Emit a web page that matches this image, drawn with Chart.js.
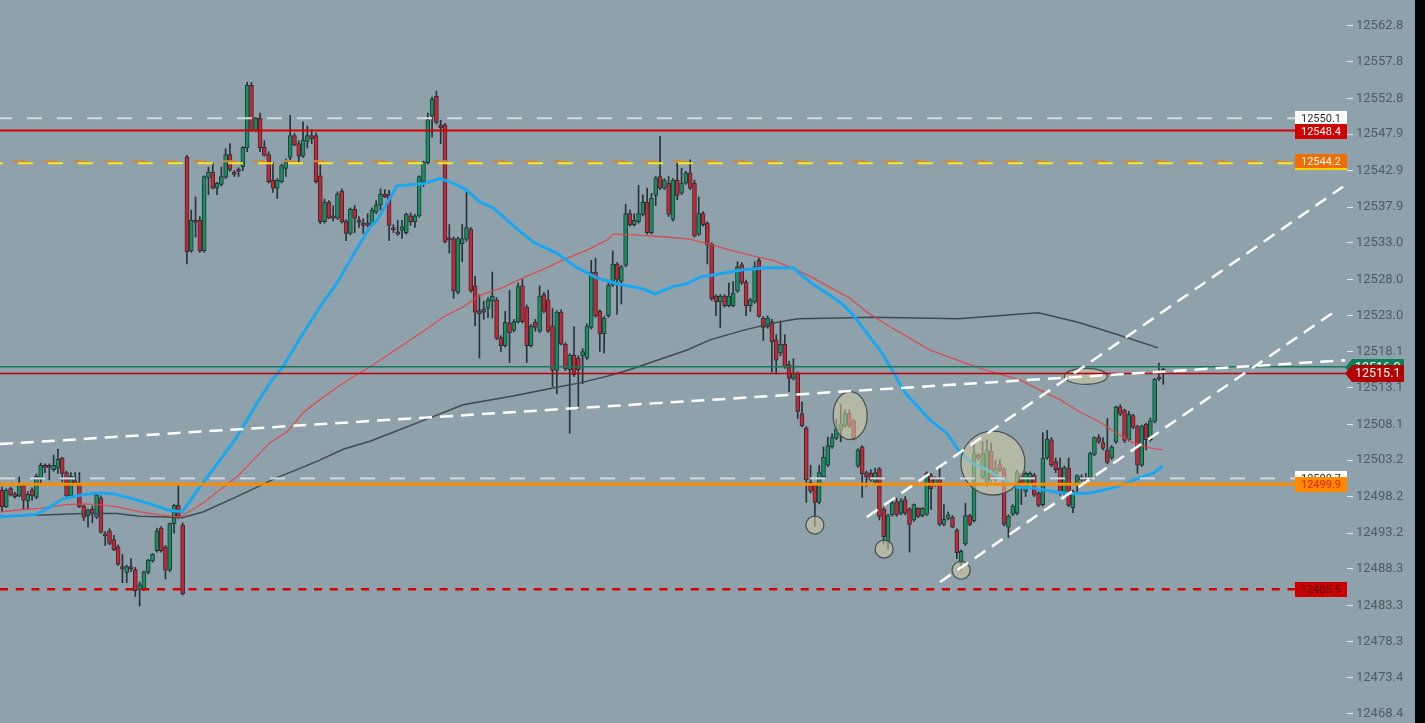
<!DOCTYPE html>
<html>
<head>
<meta charset="utf-8">
<script src="https://cdn.jsdelivr.net/npm/chart.js@4.4.1/dist/chart.umd.min.js"></script>
<style>
  html, body { margin: 0; padding: 0; background: #000; }
  #wrap { position: absolute; left: 0; top: 0; width: 1415px; height: 723px; }
</style>
</head>
<body>
<div id="wrap"><canvas id="chart" width="1415" height="723"></canvas></div>
<script>
// price axis labels
const yTicks = [12562.8, 12557.8, 12552.8, 12547.9, 12542.9, 12537.9, 12533.0, 12528.0, 12523.0, 12518.1,
  12513.1, 12508.1, 12503.2, 12498.2, 12493.2, 12488.3, 12483.3, 12478.3, 12473.4, 12468.4];

// candles: [open, high, low, close], one per bar, left to right
const candles = [
  [12499.1,12499.5,12496.1,12496.8],[12496.8,12499.3,12496.7,12499.1],[12499.3,12499.5,12498.3,12498.4],[12498.6,12498.8,12498.0,12498.2],
  [12498.3,12500.9,12498.2,12500.0],[12499.7,12500.0,12496.4,12497.7],[12497.6,12498.9,12496.4,12498.5],[12499.1,12499.4,12497.7,12498.3],
  [12498.1,12501.3,12497.9,12501.0],[12500.7,12502.8,12500.0,12502.5],[12502.5,12502.7,12501.5,12502.2],[12502.5,12502.7,12500.5,12502.2],
  [12501.9,12503.9,12501.7,12502.5],[12502.1,12504.7,12501.4,12503.3],[12503.5,12503.6,12500.2,12501.4],[12501.5,12501.7,12498.1,12498.3],
  [12498.3,12501.5,12498.1,12501.0],[12500.4,12501.5,12499.8,12499.9],[12500.0,12501.5,12496.7,12496.8],[12496.9,12497.1,12494.9,12495.4],
  [12495.6,12496.5,12494.0,12496.4],[12496.5,12496.9,12494.6,12495.9],[12495.4,12498.7,12495.2,12498.4],[12498.0,12498.3,12493.2,12493.3],
  [12493.1,12493.4,12491.5,12492.8],[12493.5,12493.8,12491.6,12491.8],[12492.3,12492.9,12490.8,12490.9],[12491.3,12491.6,12488.8,12488.9],
  [12488.6,12490.3,12486.4,12488.3],[12487.8,12488.8,12486.4,12488.6],[12488.6,12489.7,12487.9,12488.3],[12488.2,12488.5,12484.5,12485.3],
  [12485.5,12486.5,12483.2,12486.1],[12485.5,12488.0,12485.3,12487.9],[12487.8,12489.6,12487.6,12489.5],[12489.4,12490.4,12489.2,12490.3],
  [12490.8,12493.9,12490.6,12493.5],[12493.9,12494.1,12490.6,12490.8],[12491.3,12491.5,12486.9,12488.1],[12488.1,12494.6,12487.9,12494.5],
  [12494.5,12497.1,12493.2,12497.0],[12497.0,12500.0,12495.2,12495.4],[12494.3,12494.6,12484.7,12484.9],
  [12544.8,12545.0,12530.1,12531.8],[12531.9,12537.5,12531.7,12536.1],[12536.1,12539.3,12533.8,12535.8],[12536.1,12536.6,12531.7,12531.9],
  [12531.9,12542.2,12531.7,12542.1],[12541.9,12543.4,12539.6,12542.7],[12542.7,12544.0,12540.4,12540.5],[12540.5,12541.3,12539.6,12541.2],
  [12541.0,12543.4,12540.8,12542.1],[12542.0,12545.9,12541.8,12545.1],[12545.1,12546.6,12542.8,12543.0],[12542.7,12542.9,12542.1,12542.4],
  [12543.1,12543.3,12542.1,12542.8],[12543.4,12546.2,12542.9,12546.1],[12546.0,12555.0,12545.5,12554.6],[12554.6,12555.0,12548.3,12548.4],
  [12548.4,12550.2,12548.2,12550.1],[12550.1,12550.8,12545.5,12546.0],[12546.1,12547.0,12544.9,12545.0],[12545.1,12545.5,12541.2,12541.4],
  [12541.6,12544.0,12539.9,12540.5],[12540.5,12541.8,12539.1,12541.6],[12541.4,12543.8,12541.2,12543.6],[12543.2,12544.5,12542.1,12544.1],
  [12544.7,12550.5,12544.4,12547.7],[12547.7,12548.0,12546.3,12546.4],[12546.6,12547.0,12544.1,12544.9],[12544.9,12549.6,12544.7,12547.1],
  [12546.9,12549.0,12546.0,12547.7],[12547.7,12548.5,12546.6,12547.3],[12547.7,12548.1,12541.2,12541.4],[12542.2,12543.7,12535.6,12535.9],
  [12535.9,12539.0,12535.7,12538.6],[12538.6,12538.8,12536.3,12536.4],[12536.7,12538.1,12536.0,12536.4],[12536.4,12540.0,12536.2,12539.7],
  [12540.1,12540.4,12535.7,12535.9],[12536.0,12536.2,12533.3,12534.3],[12534.3,12537.8,12534.1,12537.6],[12537.6,12538.1,12534.4,12536.4],
  [12536.1,12536.6,12535.1,12535.8],[12535.7,12536.3,12534.3,12535.4],[12535.7,12537.0,12535.2,12535.4],
  [12535.5,12537.8,12535.3,12537.5],[12537.2,12538.8,12537.0,12538.2],[12538.2,12540.4,12537.5,12539.7],[12539.7,12540.3,12539.2,12539.3],
  [12539.7,12540.2,12533.3,12535.4],[12535.1,12535.5,12534.4,12534.8],[12534.5,12536.1,12534.0,12534.2],[12534.7,12536.1,12533.6,12535.2],
  [12534.4,12537.1,12534.2,12536.9],[12536.7,12537.1,12535.4,12535.9],[12535.9,12536.9,12535.1,12536.7],[12536.7,12542.2,12536.5,12542.1],
  [12541.4,12544.2,12540.7,12544.1],[12544.0,12550.8,12543.8,12549.9],[12550.4,12553.0,12547.5,12552.7],[12553.1,12553.8,12549.3,12549.5],
  [12549.2,12549.8,12546.6,12548.8],[12549.2,12549.4,12533.0,12533.1],
  [12533.6,12535.5,12531.6,12533.4],[12533.6,12533.8,12525.4,12526.4],[12526.2,12533.8,12526.0,12533.6],[12532.9,12535.5,12530.4,12533.6],
  [12533.5,12539.9,12533.2,12535.1],[12534.9,12535.1,12526.2,12526.4],[12527.1,12528.4,12521.6,12523.5],[12523.7,12525.9,12517.2,12523.3],
  [12523.5,12525.0,12522.5,12523.9],[12524.0,12525.5,12522.7,12525.2],[12525.0,12529.0,12522.7,12525.7],[12525.2,12525.5,12519.7,12519.9],
  [12520.0,12520.3,12518.1,12518.9],[12518.9,12523.6,12518.7,12522.1],[12522.0,12526.5,12516.6,12520.7],[12521.0,12522.5,12520.8,12522.2],
  [12522.2,12527.5,12522.0,12527.0],[12527.1,12528.0,12522.0,12522.2],[12524.2,12524.5,12516.6,12518.9],[12518.9,12521.8,12518.7,12521.6],
  [12522.1,12522.5,12520.9,12521.4],[12520.9,12527.1,12520.7,12525.7],[12525.9,12526.2,12523.4,12523.6],[12525.2,12526.5,12520.7,12520.9],
  [12521.6,12524.0,12513.3,12515.5],[12515.5,12523.7,12512.3,12523.5],[12523.5,12523.8,12519.0,12519.1],[12519.1,12519.3,12515.5,12515.7],
  [12515.6,12517.8,12506.9,12517.6],[12517.6,12521.5,12514.7,12514.9],[12517.2,12517.5,12510.1,12515.6],[12517.5,12518.5,12513.7,12518.1],
  [12517.2,12521.9,12517.0,12521.6],[12521.4,12530.6,12521.2,12529.0],[12529.0,12530.9,12522.8,12523.0],[12523.6,12523.8,12518.1,12520.5],
  [12520.5,12522.9,12517.9,12522.7],[12523.0,12527.9,12522.8,12527.2],[12527.2,12531.9,12527.0,12530.1],[12530.1,12530.3,12523.2,12528.0],
  [12527.7,12529.9,12524.6,12529.7],[12529.9,12538.3,12529.7,12537.0],
  [12537.0,12537.5,12535.3,12535.5],[12535.5,12537.0,12535.3,12536.1],[12535.9,12540.9,12535.7,12537.0],[12536.9,12539.6,12536.7,12538.6],
  [12538.6,12540.5,12534.2,12534.4],[12534.4,12539.8,12534.2,12539.1],[12539.5,12542.1,12538.1,12541.9],[12542.1,12547.6,12540.3,12540.5],
  [12540.5,12541.8,12540.3,12541.6],[12541.2,12542.1,12536.6,12536.9],[12536.2,12541.8,12536.0,12541.6],[12541.6,12543.9,12538.9,12539.5],
  [12539.8,12543.2,12539.6,12541.2],[12541.2,12542.8,12541.0,12542.6],[12542.6,12544.4,12540.3,12540.5],[12541.2,12541.6,12533.8,12533.9],
  [12534.2,12539.3,12534.0,12537.0],[12537.0,12537.3,12535.3,12535.5],[12535.7,12535.9,12530.1,12532.7],[12532.8,12533.0,12525.1,12525.3],
  [12525.7,12525.9,12523.0,12524.9],[12524.9,12525.9,12521.4,12525.7],[12525.7,12525.9,12524.2,12524.4],[12524.4,12527.5,12524.2,12525.7],
  [12524.4,12527.7,12524.2,12526.1],[12526.4,12530.4,12526.2,12529.7],
  [12530.0,12530.3,12527.3,12527.5],[12527.6,12527.9,12523.0,12524.4],[12524.4,12525.4,12523.6,12525.2],[12524.9,12530.4,12524.7,12529.7],
  [12530.6,12530.9,12522.8,12522.9],[12522.7,12522.9,12519.6,12521.4],[12521.5,12523.0,12521.3,12522.7],[12522.2,12522.5,12515.3,12519.4],
  [12519.7,12520.4,12515.0,12516.9],[12517.9,12522.3,12517.5,12519.1],[12519.1,12520.4,12515.8,12516.0],[12516.3,12516.8,12512.6,12514.4],
  [12514.4,12517.1,12514.2,12515.1],[12515.1,12515.3,12508.9,12509.9],[12509.6,12511.2,12507.8,12507.9],[12507.6,12507.8,12497.4,12500.5],
  [12500.2,12502.5,12498.7,12498.9],[12499.8,12500.0,12494.1,12497.4],[12497.4,12502.5,12497.2,12501.5],[12500.9,12505.0,12500.7,12503.6],
  [12502.5,12506.4,12502.3,12505.2],[12505.0,12506.8,12504.8,12506.3],[12506.2,12508.9,12506.0,12507.5],[12507.3,12510.9,12505.7,12508.2],
  [12507.9,12510.1,12507.7,12509.6],[12509.6,12510.1,12507.7,12507.9],[12508.6,12508.8,12506.0,12506.1],[12502.4,12504.8,12502.2,12504.6],
  [12505.0,12505.2,12498.1,12501.3],[12501.5,12501.7,12499.6,12500.9],[12501.4,12501.9,12500.3,12500.5],[12500.2,12502.1,12500.0,12501.5],
  [12502.0,12502.2,12495.0,12495.5],[12496.5,12496.7,12491.7,12492.7],[12492.0,12495.8,12491.0,12495.6],
  [12495.7,12497.6,12495.5,12497.4],[12497.5,12498.0,12495.5,12495.7],[12495.9,12497.9,12495.7,12497.6],[12497.8,12498.2,12495.7,12495.9],
  [12496.5,12496.7,12490.6,12494.4],[12495.0,12497.2,12494.8,12497.1],[12496.6,12496.7,12495.3,12495.5],[12495.6,12496.7,12495.4,12496.6],
  [12495.8,12501.6,12495.6,12501.4],[12501.2,12501.4,12496.4,12499.3],[12499.8,12500.9,12499.6,12500.6],[12500.6,12502.2,12494.2,12494.4],
  [12494.4,12497.1,12494.2,12495.1],[12495.2,12496.1,12495.0,12495.7],[12495.4,12495.6,12493.9,12494.0],[12493.6,12493.8,12489.7,12490.5],
  [12489.1,12490.9,12488.1,12490.7],[12491.7,12497.3,12491.5,12495.6],[12495.6,12495.8,12494.2,12494.4],[12494.9,12505.7,12494.7,12504.1],
  [12503.9,12504.1,12503.2,12503.5],[12500.9,12505.7,12500.7,12504.1],[12499.8,12506.0,12499.6,12504.6],[12504.4,12505.5,12500.3,12500.5],
  [12500.5,12503.2,12500.3,12502.1],[12502.6,12503.3,12501.6,12501.9],[12502.0,12502.2,12494.2,12494.4],[12494.0,12495.7,12492.6,12495.5],
  [12495.8,12497.1,12495.6,12496.9],[12495.9,12501.8,12495.7,12501.6],[12501.2,12501.4,12497.1,12500.0],[12498.9,12501.6,12498.2,12501.4],
  [12500.0,12501.6,12499.8,12501.4],[12501.2,12501.4,12498.2,12498.4],[12498.7,12498.9,12496.8,12497.0],[12497.1,12507.0,12496.9,12503.5],
  [12503.5,12507.3,12503.3,12506.1],[12506.0,12506.3,12502.3,12502.5],[12503.0,12503.5,12501.5,12501.9],
  [12502.1,12503.5,12498.4,12498.7],[12498.6,12502.4,12498.4,12502.2],[12502.1,12503.5,12496.8,12497.0],[12496.7,12499.1,12496.0,12498.9],
  [12499.7,12501.2,12498.7,12501.1],[12500.9,12501.2,12500.3,12500.5],[12500.6,12501.4,12500.0,12500.1],[12500.7,12504.3,12500.5,12504.1],
  [12504.0,12506.4,12503.8,12506.3],[12506.3,12506.7,12505.5,12505.7],[12505.6,12506.3,12504.6,12504.8],[12504.6,12508.9,12502.7,12502.9],
  [12503.5,12505.2,12503.3,12505.0],[12505.7,12510.6,12505.5,12510.5],[12510.5,12510.8,12509.3,12509.5],[12510.0,12510.2,12505.6,12505.9],
  [12506.0,12509.9,12505.8,12509.5],[12509.3,12509.5,12507.5,12507.7],[12507.8,12508.0,12501.4,12502.5],[12502.5,12508.0,12502.3,12507.9],
  [12508.1,12508.3,12504.6,12506.0],[12506.0,12509.0,12505.8,12508.6],[12508.5,12514.4,12508.3,12514.3],[12514.6,12516.5,12514.1,12514.3],
  [12515.7,12515.8,12513.6,12515.1]
];

// moving averages, read as [bar index, price] vertices
const maFast = [[-0.5,12495.4],[8.1,12495.8],[11.2,12496.8],[14.2,12497.9],[18.1,12498.4],[22.1,12498.7],[25.8,12498.6],
  [30.5,12497.9],[34.4,12497.2],[38.4,12496.4],[41.9,12496.1],[46.7,12500.1],[50.7,12503.2],[54.6,12506.4],[59.3,12511.0],
  [62.3,12513.8],[65.3,12516.0],[70.0,12520.6],[73.9,12524.2],[77.9,12527.5],[81.4,12531.1],[85.6,12535.2],[87.2,12536.1],
  [91.8,12540.8],[97.9,12541.1],[101.8,12541.8],[104.9,12541.2],[108.1,12540.2],[111.1,12538.6],[114.2,12537.8],[118.8,12535.4],
  [123.5,12533.1],[129.0,12531.6],[133.7,12529.6],[138.3,12528.2],[143.0,12527.4],[149.0,12526.7],[151.8,12526.0],[156.0,12527.0],
  [159.3,12527.4],[162.3,12528.3],[166.2,12528.7],[172.3,12529.3],[177.9,12529.6],[183.9,12529.6],[187.9,12527.6],[191.8,12526.1],
  [194.8,12524.9],[197.9,12523.1],[201.1,12520.6],[204.1,12518.3],[206.5,12516.0],[210.0,12512.4],[215.8,12508.7],[219.7,12506.9],
  [222.7,12504.3],[225.5,12502.8],[229.0,12501.9],[232.7,12500.5],[236.0,12499.5],[239.7,12499.4],[245.3,12498.8],[249.0,12498.6],
  [253.0,12498.7],[258.3,12499.4],[261.6,12500.1],[264.6,12500.8],[267.6,12501.4],[269.9,12502.4]];
const maMid = [[-0.5,12496.1],[4.2,12496.4],[8.8,12496.6],[15.1,12497.1],[18.8,12497.2],[22.8,12497.1],[26.7,12496.8],
  [32.1,12496.1],[36.7,12495.7],[41.4,12495.4],[46.7,12497.3],[51.4,12499.5],[54.6,12500.9],[58.4,12503.2],[62.3,12505.6],
  [66.3,12507.1],[70.0,12509.7],[73.9,12511.5],[77.9,12513.2],[81.6,12514.6],[85.6,12516.0],[99.5,12521.5],[102.5,12522.8],
  [107.2,12524.2],[111.1,12525.8],[116.5,12526.9],[121.1,12528.2],[126.7,12529.6],[131.4,12530.9],[136.0,12532.0],[140.7,12533.4],
  [142.1,12534.2],[146.7,12534.1],[154.6,12533.8],[159.9,12533.5],[164.6,12532.8],[170.0,12531.9],[174.6,12531.2],[179.3,12530.6],
  [184.8,12529.3],[188.6,12528.2],[192.5,12526.9],[197.2,12525.4],[201.1,12523.5],[206.5,12521.5],[215.8,12518.3],[227.4,12515.8],
  [236.7,12514.2],[241.3,12512.8],[246.0,12511.5],[250.6,12509.8],[255.3,12508.4],[259.2,12506.9],[262.9,12505.6],[266.9,12504.9],
  [269.9,12504.6]];
const maSlow = [[-0.5,12495.5],[11.2,12495.7],[18.8,12495.9],[26.7,12495.9],[32.1,12495.5],[38.4,12495.4],[41.9,12495.3],
  [46.7,12496.1],[54.6,12498.2],[59.3,12499.5],[63.9,12500.8],[68.6,12501.9],[73.9,12503.2],[79.3,12504.7],[85.6,12505.8],
  [99.5,12509.0],[107.2,12510.8],[118.8,12512.0],[129.0,12513.2],[134.4,12513.8],[140.7,12514.7],[145.9,12515.6],[159.3,12518.3],
  [164.6,12519.7],[172.3,12521.0],[179.3,12522.0],[185.1,12522.6],[194.4,12522.7],[202.0,12522.8],[212.9,12522.7],[222.3,12522.6],
  [231.6,12523.0],[240.9,12523.4],[250.2,12522.1],[259.5,12520.4],[268.8,12518.6]];

// horizontal price levels
const levels = [12550.1, 12548.4, 12544.2, 12543.9, 12516.0, 12515.1, 12500.7, 12499.9, 12485.5];

// drawn trend lines: [[index, price], [index, price]]
const trendLines = [
  [[-0.5, 12505.4], [312.3, 12516.9]],
  [[201.1, 12495.4], [311.8, 12540.7]],
  [[218.1, 12486.5], [310.4, 12523.8]]
];

// marked areas: [centre index, centre price, half width in bars, half height in price]
const marks = [
  [189.0, 12494.3, 2.1, 1.23],
  [205.1, 12491.0, 2.1, 1.23],
  [223.0, 12488.1, 2.1, 1.23],
  [197.2, 12509.3, 3.95, 3.29],
  [230.4, 12502.8, 7.45, 4.39],
  [252.0, 12514.7, 5.0, 1.1]
];

const bg = '#8fa2ab';
const up = '#13925f';
const down = '#cf2234';
const edge = '#263238';

const levelStyle = [
  { color: '#d3d9dc', width: 2, dash: [15, 15], off: 3, tag: { bg: '#ffffff', fg: '#2a2a2a' } },
  { color: '#d20000', width: 2, tag: { bg: '#d20000', fg: '#ffffff' } },
  { color: '#c98a4e', width: 2, dash: [15, 15], off: 18, tag: { bg: '#f26d00', fg: '#ffffff', under: '#ffd400' } },
  { color: '#ffe31a', width: 2, dash: [15, 15], off: 12 },
  { color: '#17795a', width: 1.5, tag: { bg: '#0f7d57', fg: '#ffffff', arrow: true } },
  { color: '#c00000', width: 1.5, tag: { bg: '#b50000', fg: '#ffffff', arrow: true } },
  { color: '#d3d9dc', width: 2, dash: [15, 15], tag: { bg: '#ffffff', fg: '#2a2a2a' } },
  { color: '#ff8c00', width: 3, tag: { bg: '#ff8a00', fg: '#e3230b' } },
  { color: '#d40000', width: 2.5, dash: [8, 7.7], tag: { bg: '#cc0000', fg: '#4a0a0a' } }
];

const overlay = {
  id: 'overlay',
  beforeDraw(chart) {
    const { ctx, width, height } = chart;
    ctx.save();
    ctx.fillStyle = bg;
    ctx.fillRect(0, 0, width, height);
    ctx.restore();
  },
  afterDatasetsDraw(chart) {
    const { ctx, chartArea: a, scales: { x, y } } = chart;
    ctx.save();
    ctx.beginPath();
    ctx.rect(a.left, a.top, a.right - a.left, a.bottom - a.top);
    ctx.clip();

    // shaded marks sit over candles, under the drawn lines
    marks.forEach(([ci, cp, ri, rp]) => {
      const cx = x.getPixelForValue(ci);
      const cy = y.getPixelForValue(cp);
      const rx = x.getPixelForValue(ci + ri) - cx;
      const ry = cy - y.getPixelForValue(cp + rp);
      ctx.beginPath();
      ctx.ellipse(cx, cy, rx, ry, 0, 0, Math.PI * 2);
      ctx.fillStyle = 'rgba(212,204,162,0.55)';
      ctx.fill();
      ctx.strokeStyle = '#444e53';
      ctx.lineWidth = 1.2;
      ctx.stroke();
    });

    levels.forEach((v, k) => {
      const s = levelStyle[k];
      const py = y.getPixelForValue(v);
      ctx.strokeStyle = s.color;
      ctx.lineWidth = s.width;
      ctx.setLineDash(s.dash || []);
      ctx.lineDashOffset = s.off || 0;
      ctx.beginPath();
      ctx.moveTo(a.left, py);
      ctx.lineTo(a.right, py);
      ctx.stroke();
    });

    ctx.strokeStyle = '#ffffff';
    ctx.lineWidth = 2.5;
    ctx.setLineDash([13, 8]);
    ctx.lineDashOffset = 0;
    trendLines.forEach(([p, q]) => {
      ctx.beginPath();
      ctx.moveTo(x.getPixelForValue(p[0]), y.getPixelForValue(p[1]));
      ctx.lineTo(x.getPixelForValue(q[0]), y.getPixelForValue(q[1]));
      ctx.stroke();
    });
    ctx.restore();
  },
  afterDraw(chart) {
    const { ctx, chartArea: a, scales: { y } } = chart;
    ctx.save();
    ctx.textBaseline = 'middle';
    levels.forEach((v, k) => {
      const t = levelStyle[k].tag;
      if (!t) return;
      const py = Math.round(y.getPixelForValue(v)) + 0.5;
      const label = v.toFixed(1);
      if (t.arrow) {
        const l = a.right - 2, r = a.right + 57, h = 8.5;
        ctx.fillStyle = t.bg;
        ctx.beginPath();
        ctx.moveTo(l, py);
        ctx.lineTo(l + 7, py - h);
        ctx.lineTo(r, py - h);
        ctx.lineTo(r, py + h);
        ctx.lineTo(l + 7, py + h);
        ctx.closePath();
        ctx.fill();
        ctx.fillStyle = t.fg;
        ctx.font = '12.5px Roboto';
        ctx.textAlign = 'left';
        ctx.fillText(label, l + 10, py + 0.5);
      } else {
        const l = a.right - 52, w = 52, h = 15;
        ctx.fillStyle = t.bg;
        ctx.fillRect(l, py - h / 2, w, h);
        if (t.under) {
          ctx.fillStyle = t.under;
          ctx.fillRect(l, py + h / 2 - 1, w, 2);
        }
        ctx.fillStyle = t.fg;
        ctx.font = '11px Roboto';
        ctx.textAlign = 'center';
        ctx.fillText(label, l + w / 2, py + 0.5);
      }
    });
    ctx.restore();
  }
};

const pts = arr => arr.map(([i, p]) => ({ x: i, y: p }));

new Chart(document.getElementById('chart'), {
  type: 'bar',
  data: {
    datasets: [
      { type: 'line', data: pts(maFast), borderColor: '#1ba7f0', borderWidth: 3, pointRadius: 0, order: 0 },
      { type: 'line', data: pts(maMid), borderColor: 'rgba(226,66,70,0.9)', borderWidth: 1.3, pointRadius: 0, order: 1 },
      { type: 'line', data: pts(maSlow), borderColor: '#3f4a50', borderWidth: 1.5, pointRadius: 0, order: 2 },
      {
        data: candles.map((c, i) => ({ x: i, y: [c[0], c[3]] })),
        backgroundColor: candles.map(c => (c[3] >= c[0] ? up : down)),
        borderColor: edge, borderWidth: 1, borderSkipped: false,
        barThickness: 4, minBarLength: 2, grouped: false, order: 3
      },
      {
        data: candles.map((c, i) => ({ x: i, y: [c[2], c[1]] })),
        backgroundColor: edge, borderWidth: 0,
        barThickness: 1, grouped: false, order: 4
      }
    ]
  },
  options: {
    responsive: false,
    animation: false,
    events: [],
    layout: { padding: 0 },
    plugins: { legend: { display: false }, tooltip: { enabled: false } },
    scales: {
      x: { type: 'linear', display: false, offset: false, min: -0.465, max: 312.72 },
      y: {
        type: 'linear', position: 'right', min: 12467.16, max: 12566.3,
        afterBuildTicks: s => { s.ticks = yTicks.map(v => ({ value: v })); },
        afterFit: s => { s.width = 68; s.paddingTop = 0; s.paddingBottom = 0; },
        ticks: { color: '#4f5b62', font: { family: 'Roboto', size: 13 }, padding: 3, autoSkip: false, callback: v => v.toFixed(1) },
        grid: { drawOnChartArea: false, drawTicks: true, tickLength: 6, tickColor: '#e4e9ec', tickWidth: 1 },
        border: { display: false }
      }
    }
  },
  plugins: [overlay]
});
</script>
</body>
</html>
